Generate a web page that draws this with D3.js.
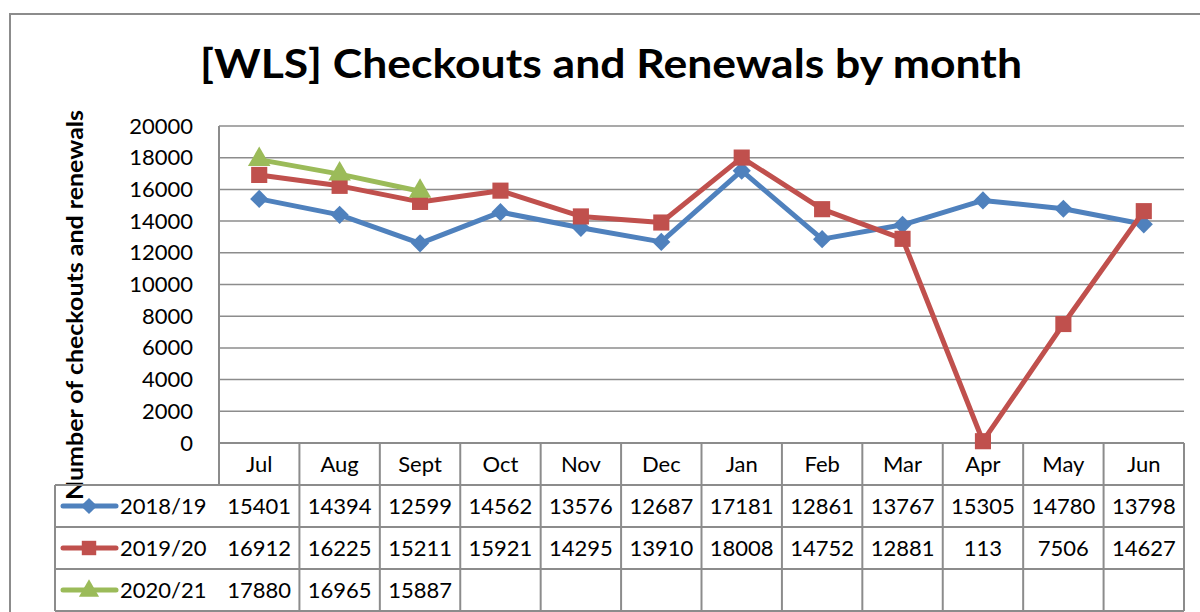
<!DOCTYPE html>
<html>
<head>
<meta charset="utf-8">
<script src="https://cdn.jsdelivr.net/npm/d3@7"></script>
<style>
  body { margin: 0; background: #fff; }
  svg { display: block; font-family: Lato, "Open Sans", sans-serif; }
</style>
</head>
<body>
<div class="chart"></div>
<script>
// data
var months = ["Jul", "Aug", "Sept", "Oct", "Nov", "Dec", "Jan", "Feb", "Mar", "Apr", "May", "Jun"];
var seriesNames = ["2018/19", "2019/20", "2020/21"];
var values1819 = [15401, 14394, 12599, 14562, 13576, 12687, 17181, 12861, 13767, 15305, 14780, 13798];
var values1920 = [16912, 16225, 15211, 15921, 14295, 13910, 18008, 14752, 12881, 113, 7506, 14627];
var values2021 = [17880, 16965, 15887];
var yTicks = [0, 2000, 4000, 6000, 8000, 10000, 12000, 14000, 16000, 18000, 20000];

var W = 1200, H = 612;
var plot = { left: 219, right: 1184, top: 126, bottom: 443 };
var tableLeft = 55, rowH = 42;
var gridColor = "#8c8c8c";

// diamond = square turned 45 degrees
var series = [
    { name: seriesNames[0], values: values1819, color: "#4f81bd", marker: d3.symbolSquare, size: 165, rot: 45 },
    { name: seriesNames[1], values: values1920, color: "#c0504d", marker: d3.symbolSquare, size: 260, rot: 0 },
    { name: seriesNames[2], values: values2021, color: "#9bbb59", marker: d3.symbolTriangle, size: 220, rot: 0 }
];

var svg = d3.select(".chart").append("svg").attr("width", W).attr("height", H);

// chart frame
svg.append("rect").attr("x", 10).attr("y", 14).attr("width", W + 20).attr("height", H + 20)
    .attr("fill", "none").attr("stroke", gridColor).attr("stroke-width", 2);

svg.append("text").attr("x", 611).attr("y", 78).attr("text-anchor", "middle")
    .attr("font-size", 41).attr("font-weight", "bold").attr("fill", "#000")
    .attr("textLength", 822).attr("lengthAdjust", "spacingAndGlyphs")
    .text("[WLS] Checkouts and Renewals by month");

var x = d3.scaleBand().domain(months).range([plot.left, plot.right]);
var y = d3.scaleLinear().domain([0, 20000]).range([plot.bottom, plot.top]);

// gridlines
svg.append("g").selectAll("line").data(yTicks).join("line")
    .attr("x1", plot.left).attr("x2", plot.right)
    .attr("y1", function(d) { return y(d); }).attr("y2", function(d) { return y(d); })
    .attr("stroke", gridColor).attr("stroke-width", 1.5);

svg.append("line").attr("x1", plot.left).attr("x2", plot.left)
    .attr("y1", plot.top).attr("y2", plot.bottom + rowH)
    .attr("stroke", gridColor).attr("stroke-width", 2);

// y axis labels
var yAxis = d3.axisLeft(y).tickValues(yTicks).tickSize(0).tickPadding(26).tickFormat(d3.format("d"));
var yg = svg.append("g").attr("transform", "translate(" + plot.left + ",0)").call(yAxis);
yg.select(".domain").remove();
yg.selectAll("text").attr("font-size", 22).attr("font-family", "Lato, sans-serif").attr("fill", "#000");

svg.append("text").attr("transform", "translate(83,305) rotate(-90)").attr("text-anchor", "middle")
    .attr("font-size", 23).attr("font-weight", "bold").attr("fill", "#000")
    .attr("textLength", 390).attr("lengthAdjust", "spacingAndGlyphs")
    .text("Number of checkouts and renewals");

// data table
var table = svg.append("g");
var tableBottom = plot.bottom + rowH * 4;
months.forEach(function(m, i) {
    var x0 = x(m) + x.bandwidth();
    table.append("line").attr("x1", x0).attr("x2", x0).attr("y1", plot.bottom).attr("y2", tableBottom)
        .attr("stroke", gridColor).attr("stroke-width", 2);
    table.append("text").attr("x", x(m) + x.bandwidth() / 2).attr("y", plot.bottom + rowH / 2 + 8)
        .attr("text-anchor", "middle").attr("font-size", 22).text(m);
});
table.append("line").attr("x1", plot.left).attr("x2", plot.right).attr("y1", plot.bottom).attr("y2", plot.bottom)
    .attr("stroke", gridColor).attr("stroke-width", 2);
for (var r = 1; r <= 4; r++) {
    table.append("line").attr("x1", tableLeft).attr("x2", plot.right)
        .attr("y1", plot.bottom + rowH * r).attr("y2", plot.bottom + rowH * r)
        .attr("stroke", gridColor).attr("stroke-width", 2);
}
table.append("line").attr("x1", tableLeft).attr("x2", tableLeft).attr("y1", plot.bottom + rowH).attr("y2", tableBottom)
    .attr("stroke", gridColor).attr("stroke-width", 2);

series.forEach(function(s, k) {
    var cy = plot.bottom + rowH * (k + 1) + rowH / 2;
    table.append("line").attr("x1", 63).attr("x2", 116).attr("y1", cy).attr("y2", cy)
        .attr("stroke", s.color).attr("stroke-width", 5).attr("stroke-linecap", "round");
    table.append("path").attr("d", d3.symbol().type(s.marker).size(s.size * 0.8)())
        .attr("transform", "translate(89," + (cy + (s.marker === d3.symbolTriangle ? 1 : 0)) + ") rotate(" + s.rot + ")")
        .attr("fill", s.color);
    table.append("text").attr("x", 120).attr("y", cy + 8).attr("font-size", 22).text(s.name);
    s.values.forEach(function(v, i) {
        table.append("text").attr("x", x(months[i]) + x.bandwidth() / 2).attr("y", cy + 8)
            .attr("text-anchor", "middle").attr("font-size", 22).text(v);
    });
});

// lines and markers
var line = d3.line()
    .x(function(d, i) { return x(months[i]) + x.bandwidth() / 2; })
    .y(function(d) { return y(d); });

series.forEach(function(s) {
    var g = svg.append("g");
    g.append("path").datum(s.values).attr("d", line).attr("fill", "none")
        .attr("stroke", s.color).attr("stroke-width", 5).attr("stroke-linejoin", "round");
    g.selectAll("path.m").data(s.values).join("path").attr("class", "m")
        .attr("d", d3.symbol().type(s.marker).size(s.size)())
        .attr("transform", function(d, i) {
            return "translate(" + (x(months[i]) + x.bandwidth() / 2) + "," + y(d) + ") rotate(" + s.rot + ")";
        })
        .attr("fill", s.color);
});
</script>
</body>
</html>
